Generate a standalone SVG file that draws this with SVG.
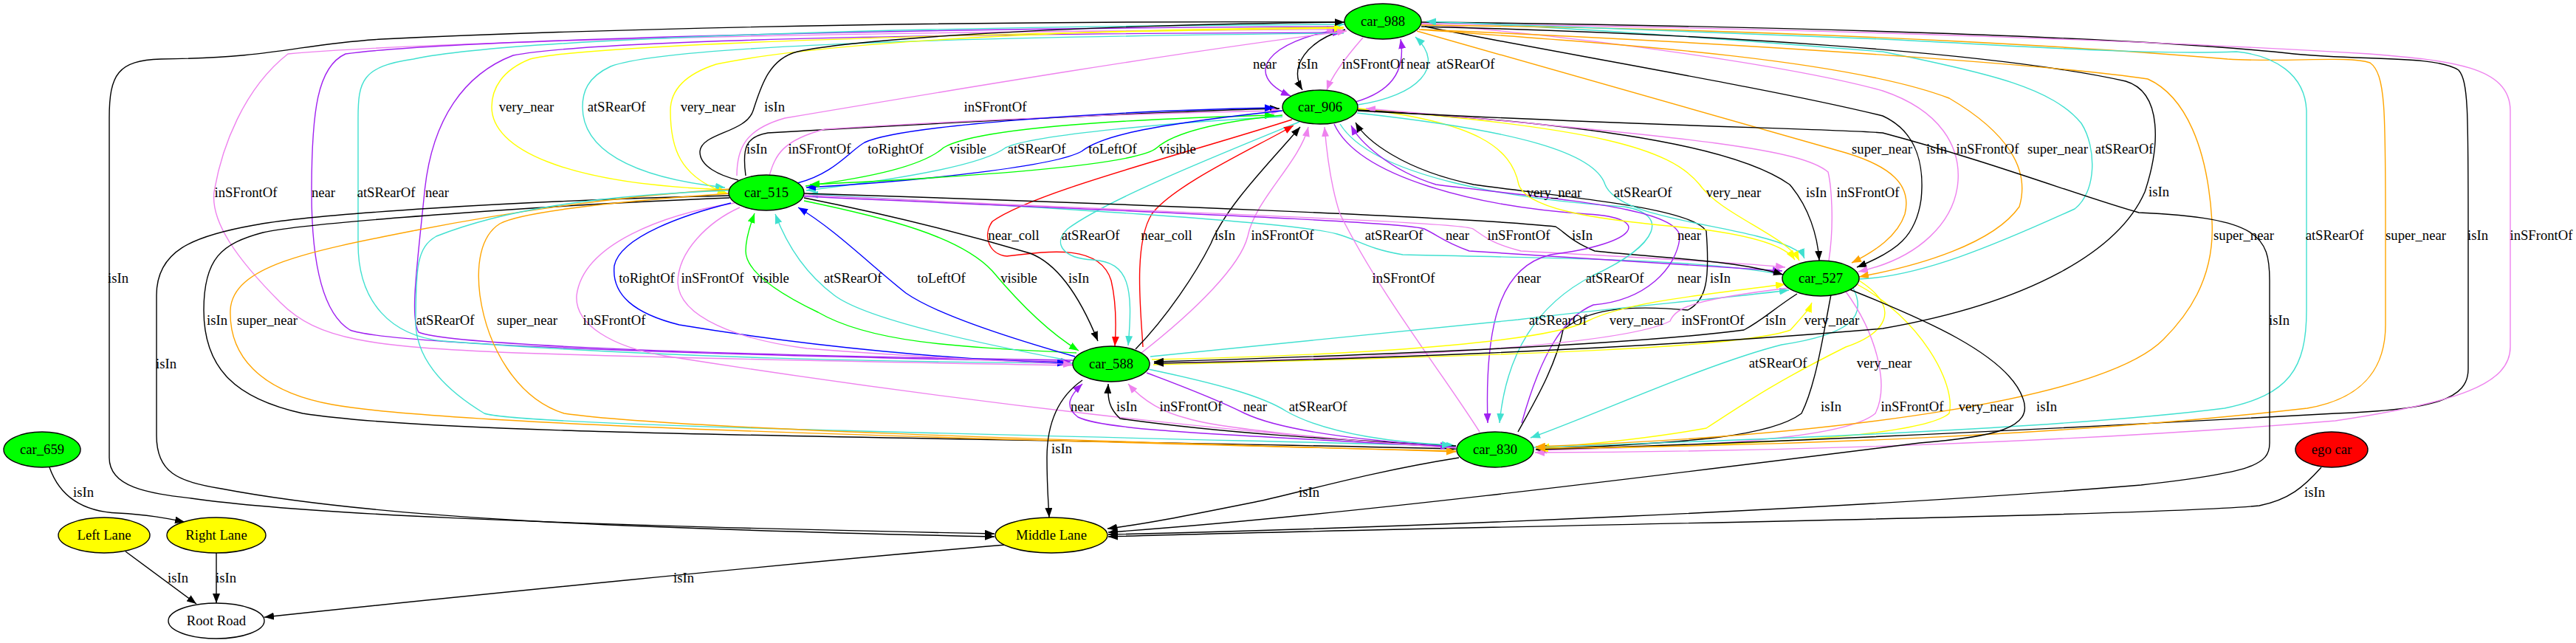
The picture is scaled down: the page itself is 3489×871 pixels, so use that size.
<svg xmlns="http://www.w3.org/2000/svg" width="3489" height="871" viewBox="0 0 3489 871">
<defs>
<style>
.e{fill:none;stroke-width:1.4}
.k{stroke:#000}.pu{stroke:#a020f0}.vi{stroke:#ee82ee}.tq{stroke:#40e0d0}.ye{stroke:#ffff00}.or{stroke:#ffa500}.bl{stroke:#0000ff}.gr{stroke:#00ff00}.rd{stroke:#ff0000}
.k{marker-end:url(#a-k)}.pu{marker-end:url(#a-pu)}.vi{marker-end:url(#a-vi)}.tq{marker-end:url(#a-tq)}.ye{marker-end:url(#a-ye)}.or{marker-end:url(#a-or)}.bl{marker-end:url(#a-bl)}.gr{marker-end:url(#a-gr)}.rd{marker-end:url(#a-rd)}
text{font-family:"Liberation Serif","Times New Roman",serif;font-size:18.67px;text-anchor:middle;fill:#000}
.n ellipse{stroke:#000;stroke-width:1.4}
.car{fill:#00ff00}.lane{fill:#ffff00}.ego{fill:#ff0000}.root{fill:#fff}
</style>
<marker id="a-k" viewBox="0 0 13 10" refX="13" refY="5" markerWidth="13" markerHeight="10" markerUnits="userSpaceOnUse" orient="auto"><path d="M0,0L13,5L0,10z" fill="#000"/></marker>
<marker id="a-pu" viewBox="0 0 13 10" refX="13" refY="5" markerWidth="13" markerHeight="10" markerUnits="userSpaceOnUse" orient="auto"><path d="M0,0L13,5L0,10z" fill="#a020f0"/></marker>
<marker id="a-vi" viewBox="0 0 13 10" refX="13" refY="5" markerWidth="13" markerHeight="10" markerUnits="userSpaceOnUse" orient="auto"><path d="M0,0L13,5L0,10z" fill="#ee82ee"/></marker>
<marker id="a-tq" viewBox="0 0 13 10" refX="13" refY="5" markerWidth="13" markerHeight="10" markerUnits="userSpaceOnUse" orient="auto"><path d="M0,0L13,5L0,10z" fill="#40e0d0"/></marker>
<marker id="a-ye" viewBox="0 0 13 10" refX="13" refY="5" markerWidth="13" markerHeight="10" markerUnits="userSpaceOnUse" orient="auto"><path d="M0,0L13,5L0,10z" fill="#ffff00"/></marker>
<marker id="a-or" viewBox="0 0 13 10" refX="13" refY="5" markerWidth="13" markerHeight="10" markerUnits="userSpaceOnUse" orient="auto"><path d="M0,0L13,5L0,10z" fill="#ffa500"/></marker>
<marker id="a-bl" viewBox="0 0 13 10" refX="13" refY="5" markerWidth="13" markerHeight="10" markerUnits="userSpaceOnUse" orient="auto"><path d="M0,0L13,5L0,10z" fill="#0000ff"/></marker>
<marker id="a-gr" viewBox="0 0 13 10" refX="13" refY="5" markerWidth="13" markerHeight="10" markerUnits="userSpaceOnUse" orient="auto"><path d="M0,0L13,5L0,10z" fill="#00ff00"/></marker>
<marker id="a-rd" viewBox="0 0 13 10" refX="13" refY="5" markerWidth="13" markerHeight="10" markerUnits="userSpaceOnUse" orient="auto"><path d="M0,0L13,5L0,10z" fill="#ff0000"/></marker>
</defs>
<rect width="3489" height="871" fill="#fff"/>
<g id="edges">
<path class="e pu" d="M1814 40C1720 55 1680 100 1748 130"/>
<path class="e k" d="M1822 40C1770 55 1745 90 1764 122"/>
<path class="e vi" d="M1846 51C1825 75 1805 100 1797 122"/>
<path class="e pu" d="M1836 138C1880 125 1905 100 1897 53"/>
<path class="e tq" d="M1839 142C1920 130 1960 90 1917 50"/>
<path class="e k" d="M1821 30C1400 28 900 35 517 53C400 60 380 78 218 80C160 82 148 100 148 160L148 620C148 660 200 668 259 675C400 695 700 710 1347 723"/>
<path class="e vi" d="M1453 495C1300 492 1000 488 700 478C500 470 430 460 380 410C320 350 285 300 290 260C300 200 330 120 390 73C600 55 1200 42 1810 40"/>
<path class="e pu" d="M1815 36C1200 38 600 55 468 73C430 90 422 150 422 260C422 330 430 420 474 447C520 465 900 480 1450 490"/>
<path class="e pu" d="M1453 488C900 480 600 465 567 450C555 430 565 360 575 260C585 160 630 100 695 75C800 55 1200 46 1818 44"/>
<path class="e tq" d="M1453 492C1200 490 900 485 600 462C530 455 485 410 485 330L485 160C485 110 490 90 560 80C700 50 1300 35 1821 33"/>
<path class="e ye" d="M987 257C760 250 666 200 666 145C666 120 680 95 718 80C800 60 1300 45 1820 38"/>
<path class="e tq" d="M1820 45C1300 50 900 62 827 90C795 105 789 125 789 145C789 200 850 240 982 254"/>
<path class="e ye" d="M1820 37C1400 40 1100 60 970 87C930 100 908 120 908 150C908 200 920 240 985 262"/>
<path class="e k" d="M1000 244C975 238 947 225 948 205C950 180 1010 180 1020 150C1030 120 1040 80 1080 70C1150 55 1400 35 1821 30"/>
<path class="e vi" d="M998 238C998 200 1010 175 1063 160C1300 120 1600 70 1824 42"/>
<path class="e k" d="M988 265C700 272 420 290 344 305C260 320 212 340 212 400L212 590C212 640 240 652 300 662C500 700 800 715 1347 727"/>
<path class="e k" d="M988 268C800 275 420 300 356 315C300 330 276 350 276 420C276 500 320 540 410 560C600 590 1200 590 1972 608"/>
<path class="e or" d="M990 256C800 268 650 295 563 312C420 340 315 360 312 420C310 480 350 530 450 548C600 575 1200 592 1972 611"/>
<path class="e tq" d="M988 258C800 265 680 285 591 320C565 335 563 360 563 440C565 480 590 520 656 560C700 575 1200 585 1972 604"/>
<path class="e or" d="M990 262C800 275 700 290 677 303C650 320 645 360 650 400C660 470 700 540 764 560C900 580 1400 595 1972 612"/>
<path class="e vi" d="M995 275C900 290 790 330 781 400C778 440 830 470 900 482C1300 545 1700 590 1964 605"/>
<path class="e k" d="M1010 238C1005 200 1010 185 1040 180C1300 165 1600 150 1733 147"/>
<path class="e vi" d="M1042 238C1050 210 1060 190 1117 175C1350 160 1600 152 1735 150"/>
<path class="e bl" d="M1080 248C1130 235 1150 205 1171 193C1220 170 1500 150 1726 146"/>
<path class="e gr" d="M1091 252C1180 240 1250 225 1278 200C1320 175 1500 162 1726 156"/>
<path class="e tq" d="M1737 158C1600 165 1400 182 1362 200C1330 225 1200 245 1092 258"/>
<path class="e bl" d="M1737 150C1550 170 1490 185 1465 205C1430 225 1250 245 1092 254"/>
<path class="e gr" d="M1737 156C1650 165 1590 180 1567 200C1540 225 1300 240 1097 250"/>
<path class="e rd" d="M1750 162C1600 210 1400 260 1344 300C1330 320 1340 345 1364 347C1420 340 1490 330 1505 380C1512 410 1512 440 1510 469"/>
<path class="e tq" d="M1760 165C1650 210 1500 270 1446 310C1425 330 1440 350 1480 352C1530 355 1535 390 1528 468"/>
<path class="e rd" d="M1548 470C1545 420 1535 330 1560 290C1590 250 1700 200 1752 170"/>
<path class="e k" d="M1538 473C1580 430 1620 370 1640 330C1660 280 1720 220 1761 172"/>
<path class="e vi" d="M1546 478C1620 420 1680 360 1690 320C1700 270 1760 220 1772 172"/>
<path class="e bl" d="M990 275C930 290 840 320 832 360C828 400 860 425 920 440C1100 470 1300 488 1445 492"/>
<path class="e vi" d="M1002 281C960 300 918 340 918 383C920 430 1000 460 1093 472C1250 485 1400 490 1453 494"/>
<path class="e gr" d="M1458 478C1300 470 1180 465 1108 423C1060 400 1010 370 1010 340C1010 320 1018 300 1022 289"/>
<path class="e tq" d="M1441 487C1300 460 1170 430 1130 400C1090 370 1065 330 1050 290"/>
<path class="e bl" d="M1456 483C1340 450 1260 420 1227 397C1180 360 1130 310 1081 281"/>
<path class="e gr" d="M1089 272C1200 295 1300 320 1344 367C1380 410 1420 450 1461 475"/>
<path class="e k" d="M1089 268C1200 290 1300 315 1395 343C1440 360 1470 420 1487 462"/>
<path class="e tq" d="M2414 372C2300 350 2100 350 1900 345C1852 337 1840 325 1811 317C1750 300 1400 280 1095 263"/>
<path class="e pu" d="M1089 266C1500 285 1900 300 1929 310C1950 320 1954 327 1990 340C2150 350 2300 360 2414 367"/>
<path class="e vi" d="M1089 264C1500 285 1980 300 1995 310C2010 320 2020 330 2060 340C2200 348 2350 355 2418 362"/>
<path class="e k" d="M1089 262C1500 275 2000 295 2107 307C2120 315 2128 327 2160 340C2250 350 2350 352 2415 372"/>
<path class="e vi" d="M2004 585C1950 500 1870 400 1815 290C1805 260 1798 220 1794 172"/>
<path class="e pu" d="M1807 168C1840 240 2000 280 2150 290C2240 295 2220 330 2100 345C2040 360 2010 420 2015 573"/>
<path class="e tq" d="M1815 168C1860 240 2050 270 2200 280C2260 290 2250 330 2158 373C2080 413 2040 480 2031 573"/>
<path class="e pu" d="M2061 573C2087 480 2117 430 2158 413C2230 407 2270 363 2275 323C2280 280 2100 270 1945 250C1880 230 1840 190 1830 170"/>
<path class="e k" d="M2056 585C2077 547 2107 497 2117 447C2148 420 2199 412 2286 420C2311 407 2316 380 2311 313C2291 280 2100 265 1996 250C1900 230 1850 190 1836 166"/>
<path class="e ye" d="M1839 147C2000 165 2047 200 2057 250C2070 290 2200 300 2300 310C2380 320 2420 335 2431 352"/>
<path class="e tq" d="M1838 153C2057 177 2160 207 2174 250C2190 290 2300 300 2380 320C2420 330 2440 340 2444 350"/>
<path class="e ye" d="M1839 147C2159 173 2261 200 2302 250C2330 290 2420 320 2437 353"/>
<path class="e k" d="M1839 149C2210 170 2363 207 2424 250C2450 280 2462 320 2464 353"/>
<path class="e vi" d="M2477 353C2485 300 2480 250 2476 233C2440 203 2312 187 1850 147"/>
<path class="e tq" d="M1558 483C1800 460 2000 440 2056 433C2200 415 2311 407 2423 393"/>
<path class="e ye" d="M1560 487C1900 480 2100 460 2150 435C2200 410 2300 400 2418 385"/>
<path class="e vi" d="M2423 390C2300 405 2270 415 2262 435C2200 467 1900 485 1563 492"/>
<path class="e k" d="M2434 398C2400 420 2388 433 2362 447C2209 467 1900 480 1563 490"/>
<path class="e ye" d="M1562 494C2107 480 2362 470 2425 447C2440 430 2450 420 2454 410"/>
<path class="e tq" d="M2510 390C2530 430 2505 453 2413 467C2311 493 2158 563 2073 593"/>
<path class="e ye" d="M2518 380C2580 420 2550 453 2500 470C2400 520 2362 547 2311 580C2200 600 2100 605 2086 607"/>
<path class="e k" d="M2480 399C2470 450 2460 520 2440 560C2400 590 2300 600 2082 608"/>
<path class="e vi" d="M2500 395C2540 450 2560 520 2540 560C2500 595 2300 605 2082 610"/>
<path class="e ye" d="M2515 385C2600 430 2650 520 2640 560C2600 595 2300 606 2084 608"/>
<path class="e or" d="M1919 42L2500 207C2560 225 2590 250 2580 290C2570 320 2540 340 2508 356"/>
<path class="e k" d="M1930 36C2100 70 2400 120 2550 157C2600 180 2606 230 2602 270C2595 320 2570 340 2515 362"/>
<path class="e vi" d="M1925 32C2200 55 2450 95 2550 123C2630 150 2655 200 2652 245C2648 300 2600 350 2517 368"/>
<path class="e or" d="M1922 40C2200 60 2500 80 2640 133C2720 180 2750 230 2735 280C2700 330 2600 360 2518 375"/>
<path class="e tq" d="M2518 378C2600 375 2700 333 2810 283C2840 260 2840 200 2819 167C2780 120 2700 100 2550 70C2300 50 2100 35 1932 30"/>
<path class="e k" d="M1925 36C2300 45 2700 70 2879 110C2930 125 2925 200 2905 260C2870 340 2750 410 2550 445C2200 475 1800 488 1563 492"/>
<path class="e k" d="M1925 30C2400 35 2900 50 3107 73C3200 82 3300 75 3330 95C3343 110 3343 150 3343 300L3343 500C3343 540 3300 555 3163 560C2800 580 2400 600 2080 609"/>
<path class="e vi" d="M1925 32C2500 38 3000 60 3209 73C3320 82 3400 90 3400 150L3400 470C3400 520 3330 545 3163 570C2800 600 2400 612 2079 613"/>
<path class="e or" d="M1925 34C2500 40 2900 70 3017 80C3100 85 3180 75 3210 85C3231 100 3231 150 3231 300L3231 440C3231 500 3200 540 3125 553C2800 590 2400 605 2080 607"/>
<path class="e tq" d="M2077 606C2400 595 2800 580 3013 553C3100 535 3124 500 3124 420L3124 150C3122 100 3080 75 3029 70C2900 75 2700 60 2550 53C2300 45 2100 35 1932 29"/>
<path class="e or" d="M1925 40C2400 60 2800 90 2909 107C2960 130 2990 200 2996 300C3000 380 2960 430 2930 460C2850 540 2500 590 2080 605"/>
<path class="e pu" d="M1972 606C1700 590 1500 585 1460 565C1440 550 1450 535 1466 520"/>
<path class="e k" d="M1972 604C1800 595 1660 587 1517 567C1502 553 1500 540 1501 520"/>
<path class="e vi" d="M1972 607C1800 595 1650 580 1609 567C1580 560 1550 545 1528 520"/>
<path class="e pu" d="M1553 505C1620 530 1660 547 1686 560C1750 590 1900 600 1964 605"/>
<path class="e tq" d="M1555 500C1650 520 1711 537 1742 557C1800 590 1900 600 1966 603"/>
<path class="e k" d="M1466 515C1430 540 1418 580 1418 620C1418 660 1420 680 1421 701"/>
<path class="e k" d="M1976 620C1850 640 1750 670 1700 680C1600 700 1550 710 1500 716"/>
<path class="e k" d="M2505 392C2600 430 2720 480 2740 540C2755 580 2700 592 2600 600C2200 650 1800 700 1501 721"/>
<path class="e k" d="M1839 150C2200 170 2500 175 2550 180C2700 220 2830 270 2897 288C3060 295 3074 320 3074 380L3074 600C3074 630 3050 640 2900 657C2500 690 1900 715 1501 724"/>
<path class="e k" d="M3144 633C3120 660 3100 677 3060 685C2900 700 2000 712 1501 727"/>
<path class="e k" d="M1362 738C1100 760 600 810 358 836"/>
<path class="e k" d="M170 747L266 818"/>
<path class="e k" d="M293 749L293 817"/>
<path class="e k" d="M67 633C80 670 110 693 160 695C200 697 225 702 250 707"/>
</g>
<g id="edge-labels">
<text x="1713" y="93">near</text><text x="1771" y="93">isIn</text><text x="1860" y="93">inSFrontOf</text><text x="1921" y="93">near</text><text x="1985" y="93">atSRearOf</text>
<text x="713" y="151">very_near</text><text x="835" y="151">atSRearOf</text><text x="959" y="151">very_near</text><text x="1049" y="151">isIn</text><text x="1348" y="151">inSFrontOf</text>
<text x="1025" y="208">isIn</text><text x="1110" y="208">inSFrontOf</text><text x="1213" y="208">toRightOf</text><text x="1311" y="208">visible</text><text x="1404" y="208">atSRearOf</text><text x="1507" y="208">toLeftOf</text><text x="1595" y="208">visible</text>
<text x="2549" y="208">super_near</text><text x="2623" y="208">isIn</text><text x="2692" y="208">inSFrontOf</text><text x="2787" y="208">super_near</text><text x="2877" y="208">atSRearOf</text>
<text x="333" y="267">inSFrontOf</text><text x="438" y="267">near</text><text x="523" y="267">atSRearOf</text><text x="592" y="267">near</text>
<text x="2105" y="267">very_near</text><text x="2225" y="267">atSRearOf</text><text x="2348" y="267">very_near</text><text x="2460" y="267">isIn</text><text x="2530" y="267">inSFrontOf</text><text x="2924" y="266">isIn</text>
<text x="1373" y="325">near_coll</text><text x="1477" y="325">atSRearOf</text><text x="1580" y="325">near_coll</text><text x="1659" y="325">isIn</text><text x="1737" y="325">inSFrontOf</text>
<text x="1888" y="325">atSRearOf</text><text x="1974" y="325">near</text><text x="2057" y="325">inSFrontOf</text><text x="2143" y="325">isIn</text><text x="2288" y="325">near</text>
<text x="3039" y="325">super_near</text><text x="3162" y="325">atSRearOf</text><text x="3272" y="325">super_near</text><text x="3356" y="325">isIn</text><text x="3442" y="325">inSFrontOf</text>
<text x="160" y="383">isIn</text>
<text x="876" y="383">toRightOf</text><text x="965" y="383">inSFrontOf</text><text x="1044" y="383">visible</text><text x="1155" y="383">atSRearOf</text><text x="1275" y="383">toLeftOf</text><text x="1380" y="383">visible</text><text x="1461" y="383">isIn</text>
<text x="1901" y="383">inSFrontOf</text><text x="2071" y="383">near</text><text x="2187" y="383">atSRearOf</text><text x="2288" y="383">near</text><text x="2330" y="383">isIn</text>
<text x="294" y="440">isIn</text><text x="362" y="440">super_near</text><text x="603" y="440">atSRearOf</text><text x="714" y="440">super_near</text><text x="832" y="440">inSFrontOf</text>
<text x="2110" y="440">atSRearOf</text><text x="2217" y="440">very_near</text><text x="2320" y="440">inSFrontOf</text><text x="2405" y="440">isIn</text><text x="2481" y="440">very_near</text><text x="3087" y="440">isIn</text>
<text x="225" y="499">isIn</text><text x="2408" y="498">atSRearOf</text><text x="2552" y="498">very_near</text>
<text x="1466" y="557">near</text><text x="1526" y="557">isIn</text><text x="1613" y="557">inSFrontOf</text><text x="1700" y="557">near</text><text x="1785" y="557">atSRearOf</text>
<text x="2480" y="557">isIn</text><text x="2590" y="557">inSFrontOf</text><text x="2690" y="557">very_near</text><text x="2772" y="557">isIn</text>
<text x="1438" y="614">isIn</text>
<text x="113" y="673">isIn</text><text x="1773" y="673">isIn</text><text x="3135" y="673">isIn</text>
<text x="241" y="789">isIn</text><text x="306" y="789">isIn</text><text x="926" y="789">isIn</text>
</g>
<g id="node-car_988" class="n"><ellipse class="car" cx="1873" cy="29" rx="52" ry="24"/><text x="1873" y="35">car_988</text></g>
<g id="node-car_906" class="n"><ellipse class="car" cx="1788" cy="145" rx="51" ry="23"/><text x="1788" y="151">car_906</text></g>
<g id="node-car_515" class="n"><ellipse class="car" cx="1038" cy="261" rx="51" ry="24"/><text x="1038" y="267">car_515</text></g>
<g id="node-car_527" class="n"><ellipse class="car" cx="2466" cy="377" rx="52" ry="24"/><text x="2466" y="383">car_527</text></g>
<g id="node-car_588" class="n"><ellipse class="car" cx="1505" cy="493" rx="52" ry="24"/><text x="1505" y="499">car_588</text></g>
<g id="node-car_830" class="n"><ellipse class="car" cx="2025" cy="609" rx="52" ry="24"/><text x="2025" y="615">car_830</text></g>
<g id="node-car_659" class="n"><ellipse class="car" cx="57" cy="609" rx="52" ry="24"/><text x="57" y="615">car_659</text></g>
<g id="node-ego_car" class="n"><ellipse class="ego" cx="3158" cy="609" rx="49" ry="24"/><text x="3158" y="615">ego car</text></g>
<g id="node-left_lane" class="n"><ellipse class="lane" cx="141" cy="725" rx="62" ry="24"/><text x="141" y="731">Left Lane</text></g>
<g id="node-right_lane" class="n"><ellipse class="lane" cx="293" cy="725" rx="67" ry="24"/><text x="293" y="731">Right Lane</text></g>
<g id="node-middle_lane" class="n"><ellipse class="lane" cx="1424" cy="725" rx="76" ry="24"/><text x="1424" y="731">Middle Lane</text></g>
<g id="node-root_road" class="n"><ellipse class="root" cx="293" cy="841" rx="65" ry="24"/><text x="293" y="847">Root Road</text></g>
</svg>
